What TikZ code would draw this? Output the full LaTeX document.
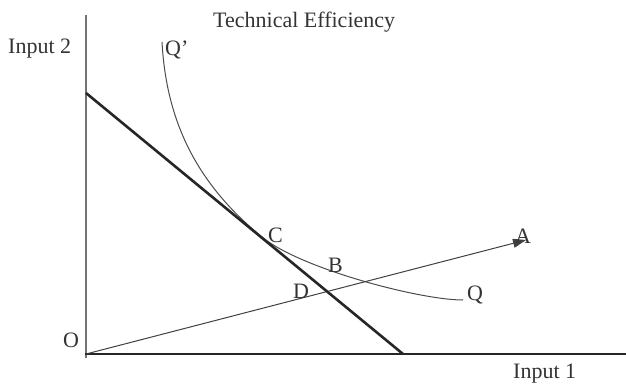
\documentclass[tikz,border=0pt]{standalone}
\usepackage{fontspec}
\setmainfont{Liberation Serif}
\usetikzlibrary{arrows.meta}

\begin{document}
\begin{tikzpicture}[x=1pt, y=-1pt,
  lbl/.style={font=\fontsize{22}{24}\selectfont, text=black!80, inner sep=0pt, anchor=base west},
  axisline/.style={line width=2.8pt},
  isoline/.style={line width=1pt, draw=black!70}]
  \useasboundingbox (0,0) rectangle (626,383);
  %% points
  \coordinate (O) at (86,354);
  \coordinate (ytop) at (86,15);
  \coordinate (ybot) at (86,358);
  \coordinate (xend) at (626,354);
  \coordinate (budtop) at (86,93);
  \coordinate (budbot) at (403,354);
  \coordinate (A) at (526,240);
  \coordinate (Qtop) at (162,42);
  \coordinate (C) at (262,237);
  \coordinate (Qend) at (463,300);
  %% axes
  \draw[axisline, draw=black!55] (ytop) -- (ybot);
  \draw[axisline, draw=black!85] (85,354) -- (xend);
  %% isoquant
  \draw[isoline] (Qtop) .. controls (166,115) and (192,180) .. (C)
    .. controls (300.6,268.7) and (420,300) .. (Qend);
  %% ray from origin
  \draw[line width=1pt, draw=black!75, -{Triangle[length=13pt,width=9pt]}] (O) -- (A);
  %% isocost line
  \draw[line width=2.6pt, draw=black!85] (budtop) -- (budbot);
  %% labels
  \node[lbl] (title) at (213,27) {Technical Efficiency};
  \node[lbl] (in2) at (8,53) {Input 2};
  \node[lbl] (in1) at (513,378) {Input 1};
  \node[lbl] (lblO) at (63,347) {O};
  \node[lbl] (lblQp) at (165,55) {Q'};
  \node[lbl] (lblC) at (268,242) {C};
  \node[lbl] (lblB) at (328,272) {B};
  \node[lbl] (lblD) at (293,298) {D};
  \node[lbl] (lblQ) at (467,300) {Q};
  \node[lbl] (lblA) at (515,243) {A};
\end{tikzpicture}
\end{document}
